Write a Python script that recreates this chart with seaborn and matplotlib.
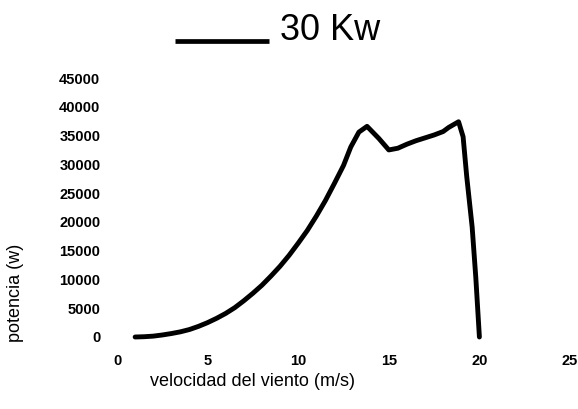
import matplotlib
matplotlib.use("Agg")
import matplotlib.pyplot as plt
import seaborn as sns
import pandas as pd

# data
velocidad = [1, 1.5, 2, 2.5, 3, 3.5, 4, 4.5, 5, 5.5, 6, 6.5, 7, 7.5, 8, 8.5,
             9, 9.5, 10, 10.5, 11, 11.5, 12, 12.5, 12.9, 13.35, 13.8, 14.45,
             15.0, 15.5, 16, 16.5, 17, 17.5, 17.75, 18, 18.3, 18.85, 19.1,
             19.3, 19.6, 19.8, 20]
potencia = [0, 50, 150, 350, 600, 900, 1300, 1850, 2500, 3250, 4100, 5100,
            6300, 7600, 9000, 10600, 12300, 14200, 16300, 18500, 21000, 23700,
            26700, 29800, 33000, 35600, 36600, 34500, 32500, 32800, 33500,
            34100, 34600, 35100, 35400, 35700, 36400, 37400, 34800, 27900,
            19100, 10400, 0]
serie = "30 Kw"
x_ticks = [0, 5, 10, 15, 20, 25]
y_ticks = [0, 5000, 10000, 15000, 20000, 25000, 30000, 35000, 40000, 45000]

df = pd.DataFrame({"v": velocidad, "p": potencia, "serie": serie})

sns.set_theme(style="white")
plt.rcParams["font.family"] = ["Liberation Sans", "DejaVu Sans"]
plt.rcParams["text.color"] = "black"

fig = plt.figure(figsize=(5.78, 4.09), dpi=100)
ax = fig.add_axes([117 / 578, 1 - 337 / 409, (570 - 117) / 578, (337 - 78) / 409])

sns.lineplot(data=df, x="v", y="p", hue="serie", palette=["black"],
             linewidth=3.5, ax=ax, sort=False, legend=True)
for l in ax.lines:
    l.set_solid_joinstyle("round")
    l.set_solid_capstyle("round")
    l.set_clip_on(False)

ax.set_xlim(0, 25)
ax.set_ylim(0, 45000)
ax.set_xticks(x_ticks)
ax.set_yticks(y_ticks)
ax.set_xticklabels([str(t) for t in x_ticks], fontsize=10.5, fontweight="bold")
ax.set_yticklabels([str(t) for t in y_ticks], fontsize=10.5, fontweight="bold")
ax.tick_params(axis="both", length=0, pad=12, colors="black")
for s in ax.spines.values():
    s.set_visible(False)
ax.set_xlabel("")
ax.set_ylabel("")

fig.text(252 / 578, 1 - 381 / 409, "velocidad del viento (m/s)", fontsize=13,
         ha="center", va="center", color="black")
fig.text(16 / 578, 1 - 293 / 409, "potencia (w)", fontsize=13, rotation=90,
         ha="center", va="center", color="black")

leg = ax.legend(loc="center", bbox_to_anchor=(278 / 578, 1 - 30 / 409),
                bbox_transform=fig.transFigure, frameon=False, fontsize=26,
                handlelength=2.58, handletextpad=0.33, borderpad=0, title=None)
for h in leg.get_lines():
    h.set_linewidth(3.4)
    h.set_solid_capstyle("butt")
    yd = h.get_ydata()
    h.set_ydata([y - 10 for y in yd])
for t in leg.get_texts():
    t.set_color("black")

fig.savefig("out.png", dpi=100, facecolor="white")
